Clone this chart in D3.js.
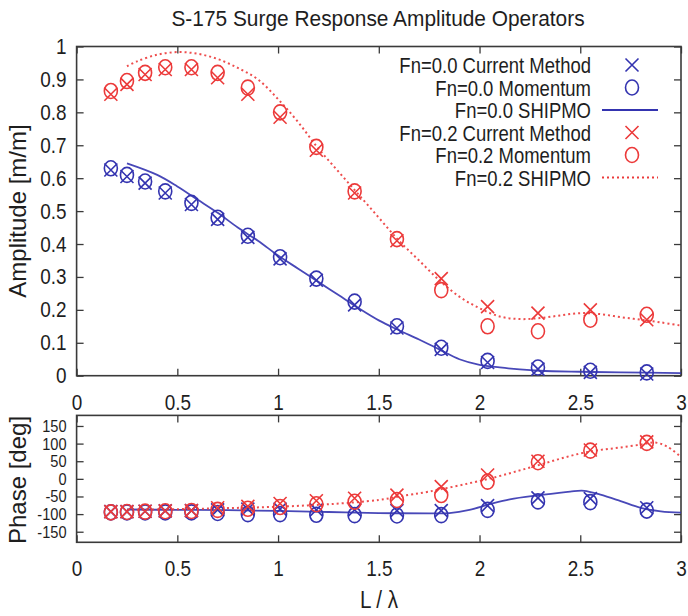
<!DOCTYPE html>
<html>
<head>
<meta charset="utf-8">
<script src="https://cdn.jsdelivr.net/npm/d3@7"></script>
<style>
  html, body { margin: 0; padding: 0; background: #fff; }
  svg { display: block; font-family: "Liberation Sans", Arial, sans-serif; }
</style>
</head>
<body>
<svg id="chart" width="688" height="616"></svg>
<script>
// --- data ---
const xPoints = [0.17, 0.25, 0.34, 0.44, 0.57, 0.70, 0.85, 1.01, 1.19, 1.38, 1.59, 1.81, 2.04, 2.29, 2.55, 2.83];

const ampFn00Current  = [0.625, 0.605, 0.585, 0.555, 0.52, 0.475, 0.42, 0.355, 0.29, 0.215, 0.145, 0.08, 0.04, 0.02, 0.01, 0.005];
const ampFn00Momentum = [0.63, 0.61, 0.59, 0.56, 0.525, 0.48, 0.425, 0.36, 0.295, 0.225, 0.15, 0.085, 0.045, 0.025, 0.015, 0.01];
const ampFn02Current  = [0.855, 0.885, 0.915, 0.93, 0.93, 0.905, 0.855, 0.785, 0.685, 0.555, 0.41, 0.295, 0.21, 0.19, 0.2, 0.17];
const ampFn02Momentum = [0.865, 0.895, 0.92, 0.937, 0.937, 0.92, 0.875, 0.80, 0.695, 0.56, 0.415, 0.26, 0.15, 0.135, 0.17, 0.185];

const shipmoX00 = [0.25, 0.4, 0.5, 0.6, 0.7, 0.8, 0.9, 1.0, 1.1, 1.2, 1.3, 1.4, 1.5, 1.6, 1.7, 1.8, 1.9, 2.0, 2.1, 2.2, 2.3, 2.5, 2.7, 3.0];
const ampFn00Shipmo = [0.645, 0.61, 0.575, 0.535, 0.495, 0.45, 0.41, 0.365, 0.325, 0.285, 0.245, 0.205, 0.168, 0.138, 0.11, 0.08, 0.05, 0.033, 0.025, 0.019, 0.015, 0.012, 0.01, 0.008];

const shipmoX02 = [0.25, 0.3, 0.4, 0.5, 0.6, 0.7, 0.8, 0.9, 1.0, 1.1, 1.2, 1.3, 1.4, 1.5, 1.6, 1.7, 1.8, 1.9, 2.0, 2.1, 2.2, 2.3, 2.4, 2.5, 2.6, 2.7, 2.8, 2.9, 3.0];
const ampFn02Shipmo = [0.94, 0.955, 0.975, 0.983, 0.978, 0.962, 0.935, 0.9, 0.84, 0.77, 0.69, 0.62, 0.55, 0.48, 0.41, 0.35, 0.29, 0.24, 0.205, 0.18, 0.172, 0.175, 0.183, 0.19, 0.187, 0.178, 0.17, 0.162, 0.152];

const phFn00Current  = [-93, -93, -92, -91, -90, -88, -86, -86, -88, -88, -90, -90, -76, -54, -56, -82];
const phFn00Momentum = [-95, -95, -95, -95, -95, -97, -100, -100, -102, -103, -104, -103, -88, -64, -66, -90];
const phFn02Current  = [-93, -93, -92, -91, -90, -82, -78, -70, -62, -55, -46, -22, 11, 50, 82, 105];
const phFn02Momentum = [-95, -94, -93, -92, -91, -88, -85, -80, -72, -65, -60, -46, -8, 47, 80, 102];

const phShipmoX00 = [0.25, 0.5, 0.75, 1.0, 1.25, 1.5, 1.75, 1.85, 1.95, 2.05, 2.15, 2.3, 2.45, 2.52, 2.6, 2.7, 2.8, 2.9, 3.0];
const phFn00Shipmo = [-87, -88, -89, -91, -94, -97, -98, -97, -88, -72, -58, -46, -36, -34, -45, -63, -82, -92, -96];
const phShipmoX02 = [0.25, 0.5, 0.75, 1.0, 1.25, 1.5, 1.6, 1.75, 2.0, 2.1, 2.2, 2.3, 2.4, 2.5, 2.6, 2.7, 2.8, 2.87, 2.93, 3.0];
const phFn02Shipmo = [-88, -86, -83, -79, -72, -60, -50, -36, -6, 8, 24, 40, 57, 72, 82, 89, 97, 103, 92, 62];

const xTicks = [0, 0.5, 1, 1.5, 2, 2.5, 3];
const ampTicks = [0, 0.1, 0.2, 0.3, 0.4, 0.5, 0.6, 0.7, 0.8, 0.9, 1];
const phTicks = [-150, -100, -50, 0, 50, 100, 150];

const legendLabels = ["Fn=0.0 Current Method", "Fn=0.0 Momentum", "Fn=0.0 SHIPMO",
                      "Fn=0.2 Current Method", "Fn=0.2 Momentum", "Fn=0.2 SHIPMO"];

const BLUE = "#3434b0";
const RED = "#ec3a3a";
const FRAME = "#3a3a3a";
const INK = "#1e1e1e";
const SQUEEZE = 0.86;   // the original uses a condensed face

const svg = d3.select("#chart");
const left = 76.6, right = 681;

const x = d3.scaleLinear().domain([0, 3]).range([left, right]);
const yAmp = d3.scaleLinear().domain([0, 1]).range([375.7, 46.5]);
const yPh = d3.scaleLinear().domain([-180, 180]).range([542.3, 415.4]);

// title
svg.append("text")
  .attr("transform", `translate(378,26) scale(0.95,1)`)
  .attr("text-anchor", "middle")
  .attr("font-size", 22).attr("fill", INK)
  .text("S-175 Surge Response Amplitude Operators");

function squeezeLabels(sel, size) {
  sel.attr("font-size", size).attr("fill", INK)
    .attr("font-family", "Liberation Sans, Arial, sans-serif")
    .each(function () {
      const t = d3.select(this);
      const tx = +t.attr("x") || 0, ty = +t.attr("y") || 0;
      t.attr("x", 0).attr("y", 0)
        .attr("transform", `translate(${tx},${ty}) scale(${SQUEEZE},1)`);
    });
}

function frame(y, ticks, labelSize, clipId) {
  const [y0, y1] = y.range();
  const g = svg.append("g");
  // ticks on all four sides, pointing inwards
  g.append("g").attr("transform", `translate(0,${y0})`)
    .call(d3.axisBottom(x).tickValues(xTicks).tickSize(-7).tickFormat(""))
    .call(a => a.select(".domain").remove());
  g.append("g").attr("transform", `translate(0,${y1})`)
    .call(d3.axisTop(x).tickValues(xTicks).tickSize(-7).tickFormat(""))
    .call(a => a.select(".domain").remove());
  const yAxis = g.append("g").attr("transform", `translate(${left},0)`)
    .call(d3.axisLeft(y).tickValues(ticks).tickSize(-7).tickPadding(10).tickFormat(d => String(d)))
    .call(a => a.select(".domain").remove());
  g.append("g").attr("transform", `translate(${right},0)`)
    .call(d3.axisRight(y).tickValues(ticks).tickSize(-7).tickFormat(""))
    .call(a => a.select(".domain").remove());
  g.selectAll(".tick line").attr("stroke", FRAME).attr("stroke-width", 1.3);
  squeezeLabels(yAxis.selectAll(".tick text"), labelSize);
  g.append("rect").attr("x", left).attr("y", y1).attr("width", right - left).attr("height", y0 - y1)
    .attr("fill", "none").attr("stroke", FRAME).attr("stroke-width", 1.6);
  svg.append("clipPath").attr("id", clipId).append("rect")
    .attr("x", left).attr("y", y1).attr("width", right - left).attr("height", y0 - y1);
  // x tick labels under the frame
  const xl = svg.append("g").attr("transform", `translate(0,${y0})`)
    .call(d3.axisBottom(x).tickValues(xTicks).tickSize(0).tickPadding(0).tickFormat(d => String(d)))
    .call(a => a.select(".domain").remove());
  xl.selectAll(".tick text").attr("dy", null).attr("y", 34);
  squeezeLabels(xl.selectAll(".tick text"), 22);
}

frame(yAmp, ampTicks, 22, "clipAmp");
frame(yPh, phTicks, 17, "clipPh");

// axis titles
svg.append("text").attr("transform", "translate(26,211) rotate(-90)")
  .attr("text-anchor", "middle")
  .attr("font-size", 24).attr("fill", INK).text("Amplitude [m/m]");
svg.append("text").attr("transform", "translate(26,480) rotate(-90)")
  .attr("text-anchor", "middle")
  .attr("font-size", 24).attr("fill", INK).text("Phase [deg]");
svg.append("text")
  .attr("transform", `translate(379,608) scale(${SQUEEZE},1)`).attr("text-anchor", "middle")
  .attr("font-size", 24).attr("fill", INK).text("L / λ");

function curve(xs, ys, y, color, dash, clipId) {
  const line = d3.line().x(d => x(d[0])).y(d => y(d[1])).curve(d3.curveCatmullRom.alpha(0.5));
  svg.append("path").attr("clip-path", `url(#${clipId})`)
    .datum(xs.map((v, i) => [v, ys[i]]))
    .attr("d", line).attr("fill", "none").attr("stroke", color)
    .attr("stroke-width", dash ? 2 : 1.8)
    .attr("stroke-dasharray", dash ? "2,3" : null)
    .attr("stroke-opacity", 0.9);
}

function crosses(xs, ys, y, color) {
  svg.append("g").selectAll("path").data(xs.map((v, i) => [v, ys[i]])).join("path")
    .attr("d", d => {
      const cx = x(d[0]), cy = y(d[1]), s = 6.5;
      return `M${cx - s},${cy - s}L${cx + s},${cy + s}M${cx - s},${cy + s}L${cx + s},${cy - s}`;
    })
    .attr("stroke", color).attr("stroke-width", 1.6).attr("fill", "none");
}

function circles(xs, ys, y, color) {
  svg.append("g").selectAll("ellipse").data(xs.map((v, i) => [v, ys[i]])).join("ellipse")
    .attr("cx", d => x(d[0])).attr("cy", d => y(d[1]))
    .attr("rx", 6.5).attr("ry", 7.5)
    .attr("stroke", color).attr("stroke-width", 1.6).attr("fill", "none");
}

// amplitude panel
curve(shipmoX00, ampFn00Shipmo, yAmp, BLUE, false, "clipAmp");
curve(shipmoX02, ampFn02Shipmo, yAmp, RED, true, "clipAmp");
crosses(xPoints, ampFn00Current, yAmp, BLUE);
circles(xPoints, ampFn00Momentum, yAmp, BLUE);
crosses(xPoints, ampFn02Current, yAmp, RED);
circles(xPoints, ampFn02Momentum, yAmp, RED);

// phase panel
curve(phShipmoX00, phFn00Shipmo, yPh, BLUE, false, "clipPh");
curve(phShipmoX02, phFn02Shipmo, yPh, RED, true, "clipPh");
crosses(xPoints, phFn00Current, yPh, BLUE);
circles(xPoints, phFn00Momentum, yPh, BLUE);
crosses(xPoints, phFn02Current, yPh, RED);
circles(xPoints, phFn02Momentum, yPh, RED);

// legend
const legend = svg.append("g");
const legendColors = [BLUE, BLUE, BLUE, RED, RED, RED];
const legendKinds = ["x", "o", "line", "x", "o", "dots"];
legendLabels.forEach((label, i) => {
  const ly = 65 + i * 22.5;
  legend.append("text")
    .attr("transform", `translate(591,${ly + 8}) scale(${SQUEEZE},1)`).attr("text-anchor", "end")
    .attr("font-size", 21.5).attr("fill", INK).text(label);
  const k = legendKinds[i], c = legendColors[i];
  if (k === "x") {
    legend.append("path").attr("d", `M625.5,${ly - 6.5}L638.5,${ly + 6.5}M625.5,${ly + 6.5}L638.5,${ly - 6.5}`)
      .attr("stroke", c).attr("stroke-width", 1.6);
  } else if (k === "o") {
    legend.append("ellipse").attr("cx", 632).attr("cy", ly).attr("rx", 6.5).attr("ry", 7.5)
      .attr("stroke", c).attr("stroke-width", 1.6).attr("fill", "none");
  } else {
    legend.append("line").attr("x1", 602).attr("x2", 658).attr("y1", ly).attr("y2", ly)
      .attr("stroke", c).attr("stroke-width", k === "line" ? 1.8 : 2)
      .attr("stroke-dasharray", k === "dots" ? "2,3" : null);
  }
});
</script>
</body>
</html>
